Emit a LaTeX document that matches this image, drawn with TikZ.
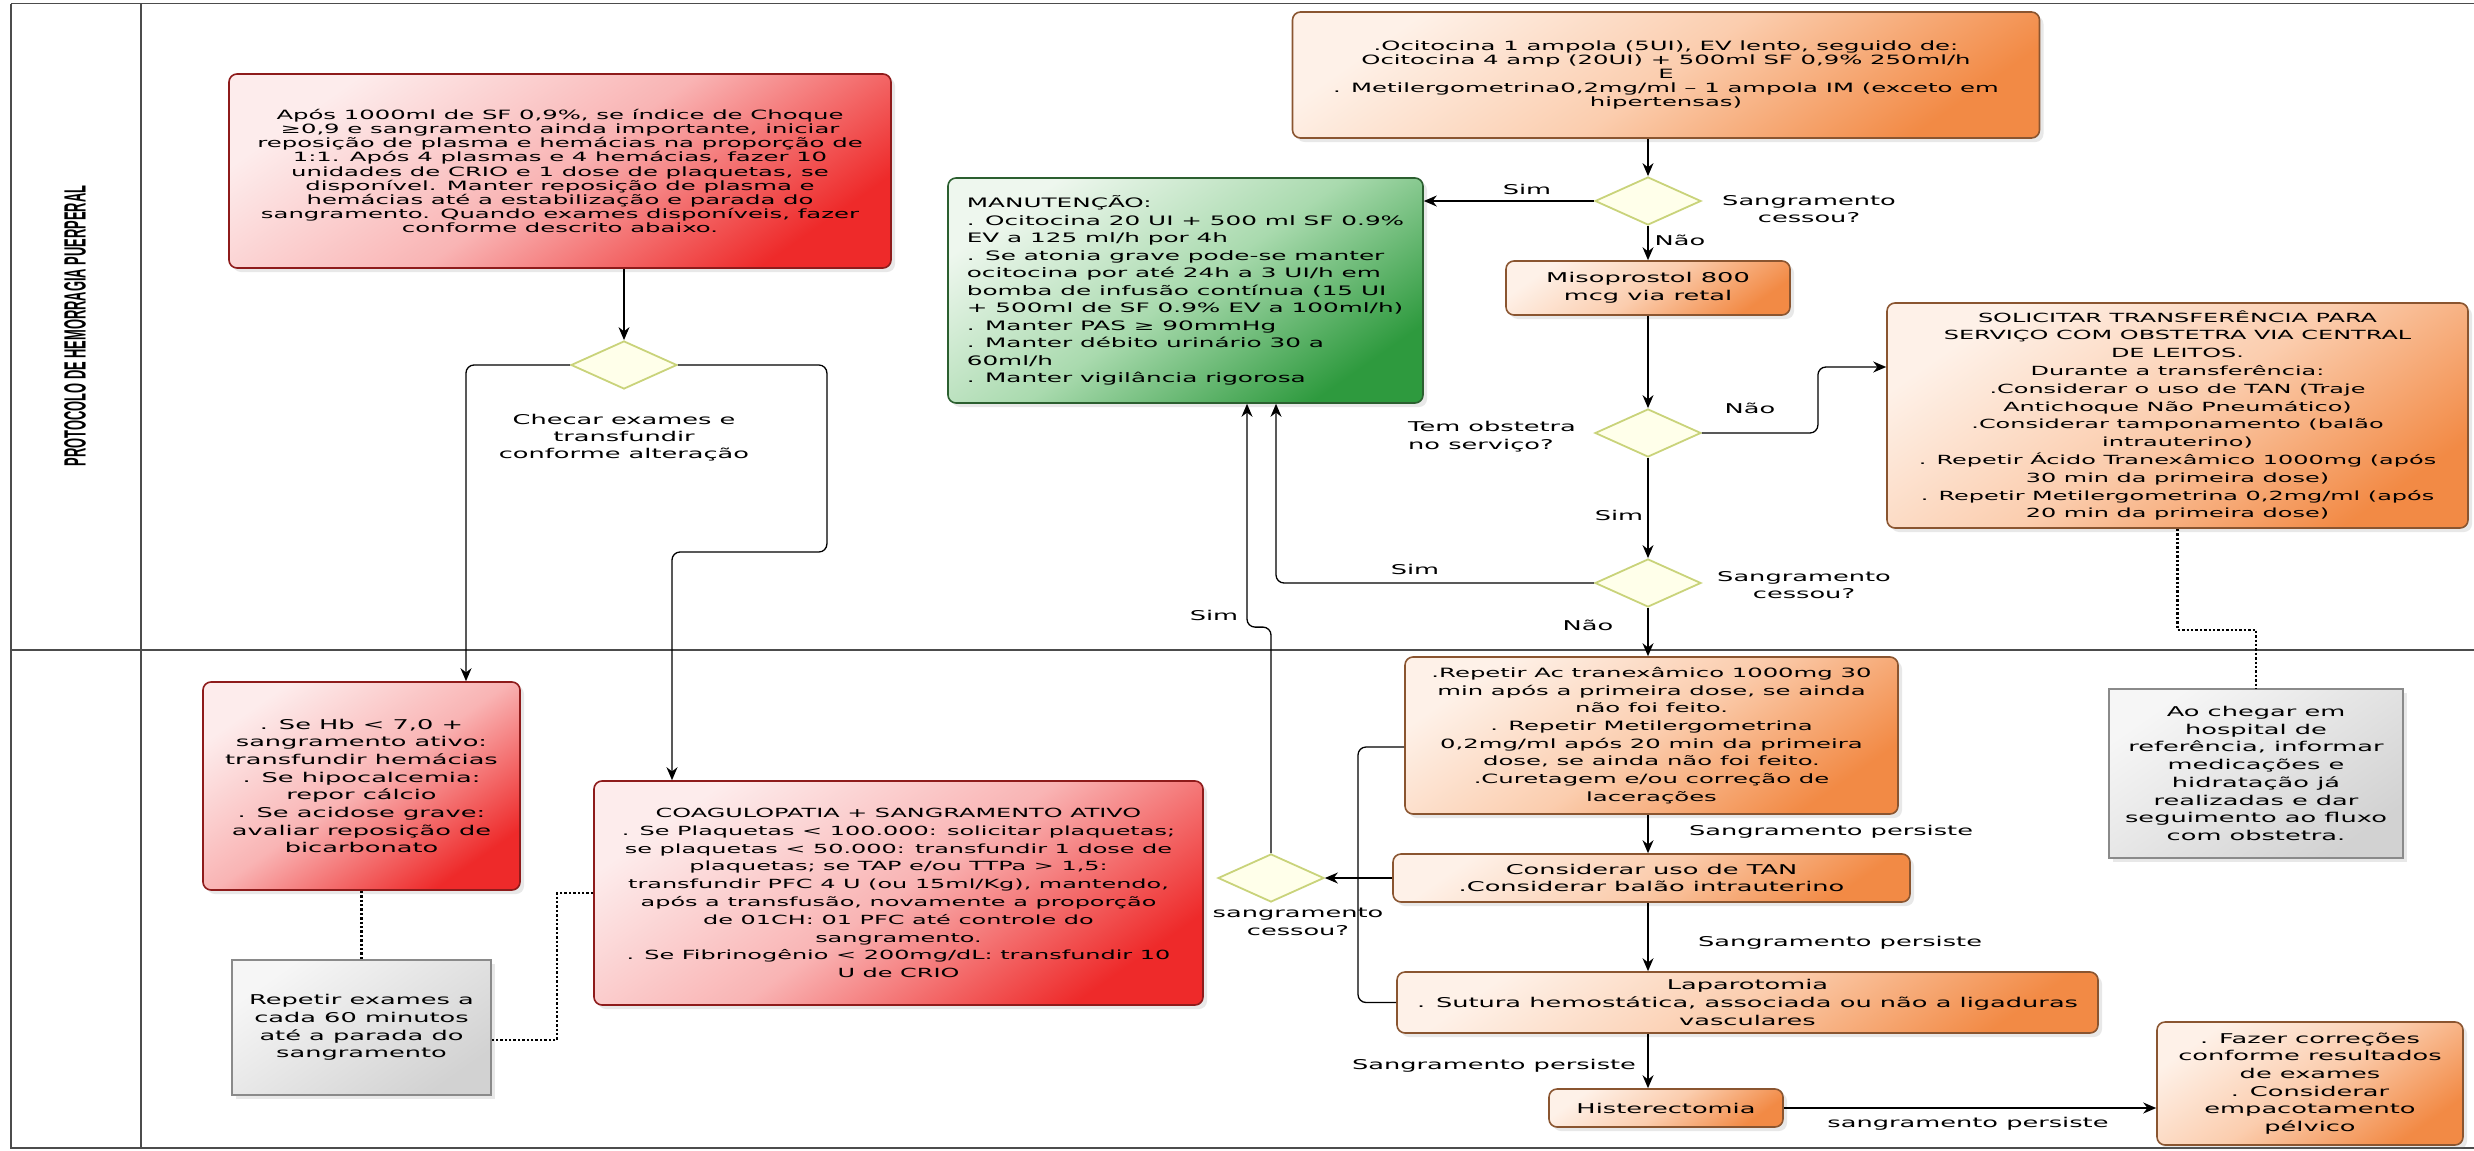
\documentclass[tikz,border=0pt]{standalone}
\usepackage{fontspec}
\setmainfont{DejaVu Sans}[FakeStretch=1.9]
\newfontfamily\titlefont{Liberation Sans}[FakeStretch=0.42]
\usetikzlibrary{shapes.geometric,arrows.meta,shadows}

\definecolor{redlight}{HTML}{FDECEC}
\definecolor{redmid}{HTML}{F9B4B4}
\definecolor{reddark}{HTML}{EE2A2A}
\definecolor{redline}{HTML}{8E1B1B}
\definecolor{orlight}{HTML}{FEF1E8}
\definecolor{ormid}{HTML}{FBCDAE}
\definecolor{ordark}{HTML}{F28A45}
\definecolor{orline}{HTML}{8A5530}
\definecolor{grlight}{HTML}{EEF7EE}
\definecolor{grmid}{HTML}{A9DAAE}
\definecolor{grdark}{HTML}{2E9A3E}
\definecolor{grline}{HTML}{2B5F2F}
\definecolor{gylight}{HTML}{F6F6F6}
\definecolor{gydark}{HTML}{D2D2D2}
\definecolor{gyline}{HTML}{8A8A8A}
\definecolor{gatefill}{HTML}{FFFFEA}
\definecolor{gateline}{HTML}{C9D37A}

\begin{document}
\begin{tikzpicture}[x=1pt,y=-1pt,
    font=\fontsize{13.5}{17.7}\selectfont,
    box/.style={draw,rounded corners=8pt,line width=1.6pt,align=center,inner sep=0pt,
      drop shadow={opacity=0.18,shadow xshift=4pt,shadow yshift=-4pt}},
    redbox/.style={box,draw=redline,top color=redlight,bottom color=reddark,middle color=redmid,shading angle=35},
    orbox/.style={box,draw=orline,top color=orlight,bottom color=ordark,middle color=ormid,shading angle=35},
    grbox/.style={box,draw=grline,top color=grlight,bottom color=grdark,middle color=grmid,shading angle=35},
    gybox/.style={box,rounded corners=0pt,draw=gyline,line width=1.2pt,top color=gylight,bottom color=gydark,shading angle=35},
    gate/.style={diamond,draw=gateline,fill=gatefill,line width=1.8pt,minimum width=106pt,minimum height=48pt,inner sep=0pt},
    flow/.style={-{Stealth[length=13pt,width=11pt]},line width=1.3pt,rounded corners=8pt},
    merged/.style={line width=1.3pt,rounded corners=8pt},
    note/.style={dotted,line width=2.4pt},
    lane/.style={draw=black!70,line width=1.6pt},
    lbl/.style={inner sep=0pt,align=center}]
  \useasboundingbox (0,0) rectangle (2474,1151);

  % lanes
  \draw[lane] (11,3.5) -- (2474,3.5);
  \draw[lane] (11,3.5) -- (11,1148) -- (2474,1148);
  \draw[lane] (141,3.5) -- (141,1148);
  \draw[lane] (11,650) -- (2474,650);
  \node[rotate=90] (titulo) at (75,326)
    {\titlefont\bfseries\fontsize{30.7}{31}\selectfont PROTOCOLO DE HEMORRAGIA PUERPERAL};

  % upper lane
  \node[redbox,minimum width=662pt,minimum height=194pt,font=\fontsize{12.8}{14.2}\selectfont] (choque) at (560,171)
    {Após 1000ml de SF 0,9\%, se índice de Choque\\
     ≥0,9 e sangramento ainda importante, iniciar\\
     reposição de plasma e hemácias na proporção de\\
     1:1. Após 4 plasmas e 4 hemácias, fazer 10\\
     unidades de CRIO e 1 dose de plaquetas, se\\
     disponível. Manter reposição de plasma e\\
     hemácias até a estabilização e parada do\\
     sangramento. Quando exames disponíveis, fazer\\
     conforme descrito abaixo.};
  \node[gate] (d1) at (624,365) {};
  \node[lbl,font=\fontsize{13.5}{17}\selectfont] (checar) at (624,438) {Checar exames e\\transfundir\\conforme alteração};

  \node[grbox,minimum width=475pt,minimum height=225pt,align=left,font=\fontsize{13}{17.5}\selectfont] (manut) at (1185.5,290.5)
    {MANUTENÇÃO:\\
     . Ocitocina 20 UI +  500 ml SF 0.9\%\\
     EV a 125 ml/h por  4h\\
     . Se atonia grave pode-se manter\\
     ocitocina por até 24h a 3 UI/h em\\
     bomba de infusão contínua (15 UI\\
     +  500ml de SF 0.9\% EV a 100ml/h)\\
     . Manter PAS ≥ 90mmHg\\
     . Manter débito urinário  30 a\\
     60ml/h\\
     . Manter vigilância rigorosa};

  \node[orbox,minimum width=747pt,minimum height=126pt,font=\fontsize{12.8}{14.2}\selectfont] (ocito) at (1666,75)
    {.Ocitocina 1 ampola (5UI), EV lento, seguido de:\\
     Ocitocina 4 amp (20UI) + 500ml SF 0,9\% 250ml/h\\
     E\\
     . Metilergometrina0,2mg/ml – 1 ampola IM (exceto em\\
     hipertensas)};
  \node[gate] (d2) at (1648,201) {};
  \node[orbox,minimum width=284pt,minimum height=54pt] (miso) at (1648,288) {Misoprostol 800\\mcg via retal};
  \node[gate] (d3) at (1648,433) {};
  \node[orbox,minimum width=581pt,minimum height=225pt,font=\fontsize{12.6}{17.8}\selectfont] (transf) at (2177.5,415.5)
    {SOLICITAR TRANSFERÊNCIA PARA\\
     SERVIÇO COM OBSTETRA VIA CENTRAL\\
     DE LEITOS.\\
     Durante a transferência:\\
     .Considerar o uso de TAN (Traje\\
     Antichoque Não Pneumático)\\
     .Considerar tamponamento (balão\\
     intrauterino)\\
     . Repetir Ácido Tranexâmico 1000mg (após\\
     30 min da primeira dose)\\
     . Repetir Metilergometrina 0,2mg/ml (após\\
     20 min da primeira dose)};
  \node[gate] (d4) at (1648,583) {};

  % lower lane
  \node[redbox,minimum width=317pt,minimum height=208pt] (hb) at (361.5,786)
    {. Se Hb < 7,0 +\\
     sangramento ativo:\\
     transfundir hemácias\\
     . Se hipocalcemia:\\
     repor cálcio\\
     . Se acidose grave:\\
     avaliar reposição de\\
     bicarbonato};
  \node[gybox,minimum width=259pt,minimum height=135pt] (exames) at (361.5,1027.5)
    {Repetir exames a\\cada 60 minutos\\até a parada do\\sangramento};
  \node[redbox,minimum width=609pt,minimum height=224pt,font=\fontsize{12.6}{17.8}\selectfont] (coag) at (898.5,893)
    {COAGULOPATIA + SANGRAMENTO ATIVO\\
     . Se Plaquetas < 100.000: solicitar plaquetas;\\
     se plaquetas < 50.000: transfundir 1 dose de\\
     plaquetas; se TAP e/ou TTPa > 1,5:\\
     transfundir PFC 4 U (ou 15ml/Kg), mantendo,\\
     após a transfusão, novamente a proporção\\
     de 01CH: 01 PFC até controle do\\
     sangramento.\\
     . Se Fibrinogênio < 200mg/dL: transfundir 10\\
     U de CRIO};
  \node[orbox,minimum width=493pt,minimum height=157pt,font=\fontsize{12.8}{17.7}\selectfont] (repetir) at (1651.5,735.5)
    {.Repetir Ac tranexâmico 1000mg 30\\
     min após a primeira dose, se ainda\\
     não foi feito.\\
     . Repetir Metilergometrina\\
     0,2mg/ml após 20 min da primeira\\
     dose, se ainda não foi feito.\\
     .Curetagem e/ou correção de\\
     lacerações};
  \node[orbox,minimum width=517pt,minimum height=48pt] (tan) at (1651.5,878)
    {Considerar uso de TAN\\.Considerar balão intrauterino};
  \node[gate] (d5) at (1271,878) {};
  \node[orbox,minimum width=701pt,minimum height=61pt] (lapa) at (1747.5,1002.5)
    {Laparotomia\\. Sutura hemostática, associada ou não a ligaduras\\vasculares};
  \node[orbox,minimum width=234pt,minimum height=38pt] (hist) at (1666,1108) {Histerectomia};
  \node[orbox,minimum width=306pt,minimum height=123pt] (fazer) at (2310,1083.5)
    {. Fazer correções\\conforme resultados\\de exames\\. Considerar\\empacotamento\\pélvico};
  \node[gybox,minimum width=294pt,minimum height=169pt] (chegar) at (2256,773.5)
    {Ao chegar em\\hospital de\\referência, informar\\medicações e\\hidratação já\\realizadas e dar\\seguimento ao fluxo\\com obstetra.};
  \coordinate (merge) at (1358,878);

  % connectors
  \draw[flow] (choque.south -| d1.north) -- (d1.north);
  \draw[flow] (d1.west) -| ([xshift=104.5pt]hb.north);
  \draw[flow] (d1.east) -- ++(149,0) -- ++(0,187) -| ([xshift=-226.5pt]coag.north);
  \draw[flow] (ocito.south -| d2.north) -- (d2.north);
  \draw[flow] (d2.west) -- (d2.west -| manut.east);
  \draw[flow] (d2.south) -- (miso.north);
  \draw[flow] (miso.south) -- (d3.north);
  \draw[flow] (d3.east) -- ++(116,0) |- ([yshift=48.5pt]transf.west);
  \draw[flow] (d3.south) -- (d4.north);
  \draw[flow] (d4.west) -| ([xshift=90.5pt]manut.south);
  \draw[flow] (d4.south) -- (d4.south |- repetir.north);
  \draw[flow] (d4.south |- repetir.south) -- (d4.south |- tan.north);
  \draw[flow] (d4.south |- tan.south) -- (d4.south |- lapa.north);
  \draw[flow] (d4.south |- lapa.south) -- (d4.south |- hist.north);
  \draw[flow] (hist.east) -- (hist.east -| fazer.west);
  \draw[flow] (tan.west) -- (d5.east);
  \draw[merged] ([yshift=-11.5pt]repetir.west) -| (merge);
  \draw[merged] (lapa.west) -| (merge);
  \draw[flow] (d5.north) -- ++(0,-226) -| ([xshift=61.5pt]manut.south);
  \draw[note] (hb.south) -- (exames.north);
  \draw[note] (coag.west) -- ++(-36,0) |- ([yshift=-12.5pt]exames.east);
  \draw[note] (transf.south) -- ++(0,101) -| (chegar.north);

  % labels
  \node[lbl] (simA) at (1527,189) {Sim};
  \node[lbl] (naoA) at (1680,240) {Não};
  \node[lbl] (cessA) at (1809,209) {Sangramento\\cessou?};
  \node[lbl,align=left,anchor=west] (temob) at (1408,437) {Tem obstetra\\no serviço?};
  \node[lbl] (naoB) at (1750,408) {Não};
  \node[lbl] (simB) at (1619,515) {Sim};
  \node[lbl] (simC) at (1415,569) {Sim};
  \node[lbl] (cessB) at (1804,585) {Sangramento\\cessou?};
  \node[lbl] (naoC) at (1588,625) {Não};
  \node[lbl] (simD) at (1214,615) {Sim};
  \node[lbl] (persA) at (1831,832) {Sangramento persiste};
  \node[lbl] (persB) at (1840,943) {Sangramento persiste};
  \node[lbl] (persC) at (1494,1066) {Sangramento persiste};
  \node[lbl] (persD) at (1968,1124) {sangramento persiste};
  \node[lbl] (cessC) at (1298,922) {sangramento\\cessou?};
\end{tikzpicture}
\end{document}
